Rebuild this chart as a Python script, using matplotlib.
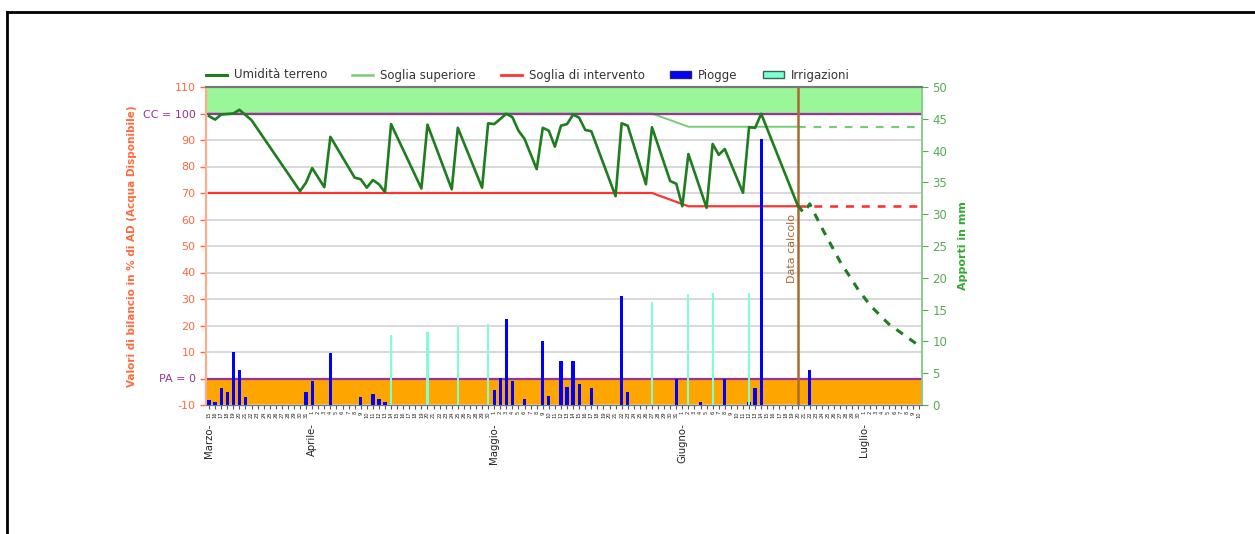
import datetime as dt

import matplotlib.pyplot as plt
from matplotlib.lines import Line2D
from matplotlib.patches import Patch

# giorni dal 15 marzo (indice 0) al 10 luglio (indice 117)
start = dt.date(2013, 3, 15)
n_days = 118
mesi = {3: 'Marzo', 4: 'Aprile', 5: 'Maggio', 6: 'Giugno', 7: 'Luglio'}

# umidita' del terreno (% AD), vertici della curva fino alla data calcolo
soil_days = [0, 1, 2, 4, 5, 7, 15, 16, 17, 19, 20, 24, 25, 26, 27, 28, 29, 30,
             35, 36, 40, 41, 45, 46, 47, 49, 50, 51, 52, 54, 55, 56, 57, 58,
             59, 60, 61, 62, 63, 67, 68, 69, 72, 73, 76, 77, 78, 79, 82, 83,
             84, 85, 88, 89, 90, 91, 97]
soil_vals = [99, 97.7, 99.6, 100, 101.4, 97.5, 70.7, 74, 79.4, 72.2, 91.2, 75.8,
             75.2, 72, 74.9, 73.3, 70.3, 96, 71.7, 95.8, 71.4, 94.6, 72, 96.3,
             96, 99.9, 98.6, 93.5, 90.4, 79, 94.6, 93.5, 87.5, 95.4, 96, 99.6,
             98.4, 93.8, 93.3, 68.8, 96.3, 95.4, 73.3, 94.8, 74.5, 73.5, 65,
             84.7, 64.4, 88.5, 84.4, 86.6, 70.1, 94.8, 94.6, 99.9, 65.4]

# previsione dopo la data calcolo
prev_days = [97, 98, 99, 101, 104, 107, 109, 112, 117]
prev_vals = [65.4, 62.5, 65.9, 56.8, 44.1, 33.5, 27.5, 20.6, 12.4]

# soglie
sup_days = [0, 73, 79, 97]
sup_vals = [100, 100, 95, 95]
int_days = [0, 73, 79, 97]
int_vals = [70, 70, 65, 65]
fine = 117.5

data_calcolo = 97

# apporti in mm
rain_days = [0, 1, 2, 3, 4, 5, 6, 16, 17, 20, 25, 27, 28, 29, 47, 48, 49, 50,
             52, 55, 56, 58, 59, 60, 61, 63, 68, 69, 77, 81, 85, 89, 90, 91, 99]
rain_mm = [0.8, 0.4, 2.6, 2.1, 8.4, 5.5, 1.2, 2.1, 3.8, 8.1, 1.2, 1.8, 0.9, 0.5,
           2.3, 4.2, 13.5, 3.8, 0.9, 10.1, 1.4, 6.9, 2.9, 6.9, 3.3, 2.7, 17.2,
           2.0, 4.1, 0.5, 4.1, 0.4, 2.7, 41.9, 5.5]
irr_days = [30, 36, 41, 46, 73, 79, 83, 89]
irr_mm = [11.0, 11.4, 12.2, 12.8, 16.2, 17.4, 17.6, 17.6]

left_ticks = list(range(-10, 111, 10))
right_ticks = list(range(0, 51, 5))

C_SOIL = '#1e7d1e'
C_SUP = '#77cc77'
C_INT = '#ff3333'
C_PURPLE = '#993399'
C_AXL = '#ff6a3d'
C_AXR = '#55aa55'
C_BROWN = '#a86a32'

fig = plt.figure(figsize=(12.55, 5.34), dpi=100)
ax = fig.add_axes([206 / 1255, 1 - 405 / 534, 716 / 1255, 318 / 534])
ax2 = ax.twinx()

ax.set_xlim(-0.5, n_days - 0.5)
ax.set_ylim(-10, 110)
ax2.set_ylim(0, 50)

# fasce
ax.axhspan(100, 110, color='#99f799', zorder=0)
ax.axhspan(-10, 0, color='#ffa500', zorder=0)
for v in left_ticks:
    ax.axhline(v, color='#d2d2d2', lw=1.2, zorder=0.5)

ax.plot(sup_days, sup_vals, color=C_SUP, lw=1.4, zorder=2)
ax.plot([sup_days[-1], fine], [sup_vals[-1]] * 2, color=C_SUP, lw=1.6,
        ls=(0, (3.5, 3.5)), zorder=2)
ax.plot(int_days, int_vals, color=C_INT, lw=1.6, zorder=2)
ax.plot([int_days[-1], fine], [int_vals[-1]] * 2, color=C_INT, lw=1.9,
        ls=(0, (3, 3)), zorder=2)
ax.axhline(100, color=C_PURPLE, lw=1.6, zorder=3)
ax.axhline(0, color=C_PURPLE, lw=1.6, zorder=3)
ax.plot(soil_days, soil_vals, color=C_SOIL, lw=1.9, zorder=4)
ax.plot(prev_days, prev_vals, color=C_SOIL, lw=2.2, ls=(0, (2.6, 2.6)), zorder=4)

ax.axvline(data_calcolo, color=C_BROWN, lw=1.8, zorder=3)
ax.text(data_calcolo - 0.9, 49, 'Data calcolo', rotation=90, color=C_BROWN,
        fontsize=8, ha='center', va='center', zorder=5)

# barre apporti
ax2.bar(rain_days, rain_mm, width=0.55, color='#0000ff', zorder=2)
ax2.bar(irr_days, irr_mm, width=0.35, color='#7fffd4', zorder=2)

# asse sinistro
ax.set_yticks(left_ticks)
lab = []
for v in left_ticks:
    if v == 100:
        lab.append('CC = 100')
    elif v == 0:
        lab.append('PA = 0')
    else:
        lab.append(str(v))
ax.set_yticklabels(lab, fontsize=8)
ax.tick_params(axis='y', colors=C_AXL, length=4, width=1, labelsize=8)
for t, v in zip(ax.get_yticklabels(), left_ticks):
    t.set_color(C_PURPLE if v in (0, 100) else C_AXL)
ax.set_ylabel('Valori di bilancio in % di AD (Acqua Disponibile)', color=C_AXL,
              fontsize=7.5, fontweight='bold', labelpad=4)

# asse destro
ax2.set_yticks(right_ticks)
ax2.tick_params(axis='y', colors=C_AXR, length=4, labelsize=8.5)
ax2.set_ylabel('Apporti in mm', color='#33aa33', fontsize=8, fontweight='bold',
               labelpad=8)

# asse x: numero del giorno, nome del mese sotto il primo giorno
xlabels = []
for i in range(n_days):
    d = start + dt.timedelta(days=i)
    xlabels.append(str(d.day))
    if i == 0 or d.day == 1:
        ax.text(i, -0.058, mesi[d.month] + '-', rotation=90, fontsize=7.3,
                color='#222222', ha='center', va='top',
                transform=ax.get_xaxis_transform())
ax.set_xticks(range(n_days))
ax.set_xticklabels(xlabels, rotation=90, fontsize=3.7, color='#222222')
ax.tick_params(axis='x', length=3, width=0.8, color='#555555', pad=1.5)

for a in (ax, ax2):
    a.spines['left'].set_color('#ffaa88')
    a.spines['left'].set_linewidth(1.5)
    a.spines['right'].set_color('#88cc88')
    a.spines['right'].set_linewidth(1.2)
    a.spines['top'].set_color('#777777')
    a.spines['top'].set_linewidth(1.5)
    a.spines['bottom'].set_color('#777777')

handles = [
    Line2D([], [], color=C_SOIL, lw=2.2),
    Line2D([], [], color=C_SUP, lw=1.8),
    Line2D([], [], color=C_INT, lw=2),
    Patch(facecolor='#0000ff', edgecolor='#222266'),
    Patch(facecolor='#7fffd4', edgecolor='#336655'),
]
names = ['Umidità terreno', 'Soglia superiore', 'Soglia di intervento',
         'Piogge', 'Irrigazioni']
fig.legend(handles, names, loc='center left', bbox_to_anchor=(195 / 1255, 1 - 75 / 534),
           ncol=5, frameon=False, fontsize=8.5, handlelength=1.8, handleheight=0.6,
           columnspacing=2.1, handletextpad=0.6, labelcolor='#333333')

# cornice esterna
fig.add_artist(Line2D([7 / 1255, 1], [1 - 12 / 534] * 2, color='black', lw=2,
                      transform=fig.transFigure))
fig.add_artist(Line2D([7 / 1255] * 2, [0, 1 - 12 / 534], color='black', lw=2,
                      transform=fig.transFigure))

fig.savefig('out.png', dpi=100)
